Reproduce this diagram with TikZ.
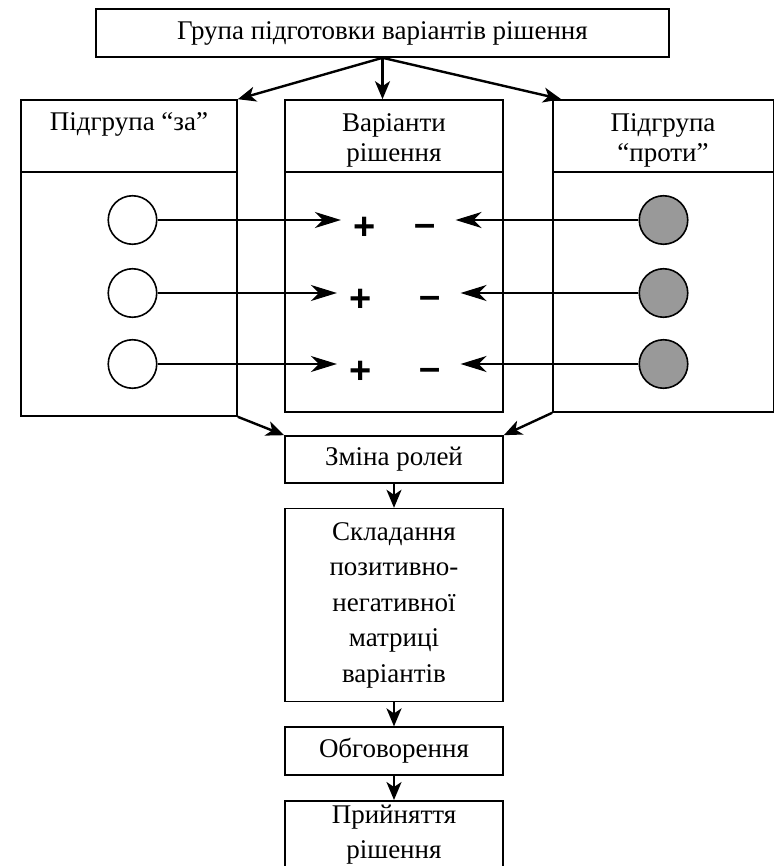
\documentclass[tikz,border=0pt]{standalone}
\usepackage{fontspec}
\setmainfont{Liberation Serif}
\newfontfamily\signfont{Liberation Sans}
\usetikzlibrary{arrows.meta,positioning,shapes.geometric}
\tikzset{
  node distance=24pt,
  every node/.style={font=\fontsize{27}{30}\selectfont},
  box/.style={draw,line width=1.6pt,inner sep=0pt,align=center},
  chain/.style={box,minimum width=218pt,font=\fontsize{27}{35.5}\selectfont},
  title/.style={align=center,inner sep=0pt},
  pro/.style={circle,draw,line width=1.6pt,minimum size=48.5pt,inner sep=0pt,fill=white},
  contra/.style={pro,fill=black!40},
  plussign/.style={font=\signfont\bfseries\fontsize{38}{38}\selectfont,inner sep=0pt,outer xsep=13pt},
  minussign/.style={font=\signfont\bfseries\fontsize{38}{38}\selectfont,inner sep=0pt,outer xsep=20pt}
}

\begin{document}
\begin{tikzpicture}[x=1pt,y=-1pt]
  \useasboundingbox (0,0) rectangle (773,866);
  \begin{scope}
    \node[box,minimum width=573pt,minimum height=48pt] (top) at (382.5,33)
      {Група підготовки варіантів рішення};

    % three groups
    \node[box,minimum width=216pt,minimum height=316pt] (za) at (129,258) {};
    \node[box,minimum width=218pt,minimum height=312pt] (var) at (394,256) {};
    \node[box,minimum width=221pt,minimum height=312pt] (proty) at (663.5,256) {};
    \draw[line width=1.6pt] (za.west |- 0,172) -- (za.east |- 0,172);
    \draw[line width=1.6pt] (var.west |- 0,172) -- (var.east |- 0,172);
    \draw[line width=1.6pt] (proty.west |- 0,172) -- (proty.east |- 0,172);
    \node[title] (zat) at (129,124) {Підгрупа “за”};
    \node[title] (vart) at (394,140) {Варіанти\\рішення};
    \node[title] (protyt) at (663,140) {Підгрупа\\“проти”};

    \node[pro] (c1) at (132.5,220) {};
    \node[pro] (c2) at (132.5,293) {};
    \node[pro] (c3) at (132.5,364) {};
    \node[contra] (g1) at (663.5,220) {};
    \node[contra] (g2) at (663.5,293) {};
    \node[contra] (g3) at (663.5,364) {};

    \node[plussign] (p1) at (365,228) {+};
    \node[plussign] (p2) at (361,300) {+};
    \node[plussign] (p3) at (361,372) {+};
    \node[minussign] (m1) at (425,230) {–};
    \node[minussign] (m2) at (430,302) {–};
    \node[minussign] (m3) at (430,374) {–};

    % bottom chain
    \node[chain,minimum height=47pt] (zmina) at (394,459.5) {Зміна ролей};
    \node[chain,minimum height=193pt] (skl) [below=of zmina]
      {Складання\\позитивно-\\негативної\\матриці\\варіантів};
    \node[chain,minimum height=48pt] (obg) [below=of skl] {Обговорення};
    \node[chain,minimum height=68pt] (pryi) [below=of obg] {Прийняття\\рішення};
  \end{scope}

  \begin{scope}[>={Stealth[length=18pt,width=15pt,inset=5pt]},
                every edge/.style={draw=black,line width=2.4pt}]
    \path [->] (top.south) edge (za.north east);
    \path [->] (top.south) edge (top.south |- var.north);
    \path [->] (top.south) edge ([xshift=9pt]proty.north west);

    \path [->] (za.south east) edge (zmina.north west);
    \path [->] (proty.south west) edge (zmina.north east);
    \path [->] (zmina) edge (skl);
    \path [->] (skl) edge (obg);
    \path [->] (obg) edge (pryi);
  \end{scope}

  \begin{scope}[>={Stealth[length=26pt,width=16pt,inset=8pt]},
                every edge/.style={draw=black,line width=2.4pt}]
    \path [->] (c1) edge (c1 -| p1.west);
    \path [->] (c2) edge (c2 -| p2.west);
    \path [->] (c3) edge (c3 -| p3.west);
    \path [->] (g1) edge (g1 -| m1.east);
    \path [->] (g2) edge (g2 -| m2.east);
    \path [->] (g3) edge (g3 -| m3.east);
  \end{scope}
\end{tikzpicture}
\end{document}
